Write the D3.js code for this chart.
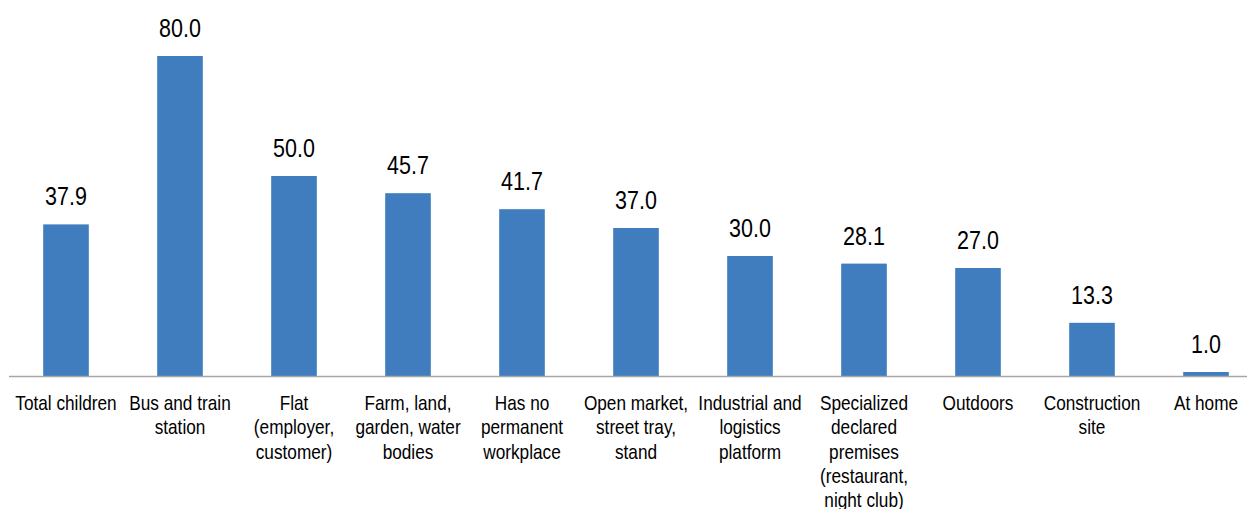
<!DOCTYPE html>
<html>
<head>
<meta charset="utf-8">
<script src="https://cdn.jsdelivr.net/npm/d3@7"></script>
<style>
  body { margin: 0; background: #fff; }
  text { font-family: "Liberation Sans Narrow", "Arial Narrow", "Liberation Sans", Arial, sans-serif; fill: #000; }
</style>
</head>
<body>
<div id="chart"></div>
<script>
const categories = [
  "Total children",
  "Bus and train\nstation",
  "Flat\n(employer,\ncustomer)",
  "Farm, land,\ngarden, water\nbodies",
  "Has no\npermanent\nworkplace",
  "Open market,\nstreet tray,\nstand",
  "Industrial and\nlogistics\nplatform",
  "Specialized\ndeclared\npremises\n(restaurant,\nnight club)",
  "Outdoors",
  "Construction\nsite",
  "At home"
];
const values = [37.9, 80.0, 50.0, 45.7, 41.7, 37.0, 30.0, 28.1, 27.0, 13.3, 1.0];

const width = 1247, height = 509;
const baseY = 376, topY = 56;

const svg = d3.select("#chart")
              .append("svg")
              .attr("width", width)
              .attr("height", height);

const x = d3.scaleBand()
            .domain(categories)
            .range([9, 1263])
            .paddingInner(0.6)
            .paddingOuter(0.3);

const y = d3.scaleLinear()
            .domain([0, 80])
            .range([baseY, topY]);

const cx = c => x(c) + x.bandwidth() / 2;

svg.selectAll(".bar")
   .data(values)
   .enter()
   .append("rect")
   .attr("class", "bar")
   .attr("x", (d, i) => x(categories[i]))
   .attr("y", d => y(d))
   .attr("width", x.bandwidth())
   .attr("height", d => baseY - y(d))
   .attr("fill", "#3f7dbf");

// baseline
svg.append("line")
   .attr("x1", x.range()[0])
   .attr("x2", x.range()[1])
   .attr("y1", baseY + 0.5)
   .attr("y2", baseY + 0.5)
   .attr("stroke", "#a6a6a6")
   .attr("stroke-width", 1.5);

// narrow look: squeeze the regular face horizontally
svg.selectAll(".value")
   .data(values)
   .enter()
   .append("g")
   .attr("transform", (d, i) => `translate(${cx(categories[i])},${y(d) - 19}) scale(0.86,1)`)
   .append("text")
   .attr("class", "value")
   .attr("text-anchor", "middle")
   .style("font-size", "25px")
   .text(d => d3.format(".1f")(d));

const labels = svg.selectAll(".cat")
   .data(categories)
   .enter()
   .append("g")
   .attr("class", "cat")
   .attr("transform", c => `translate(${cx(c)},410) scale(0.82,1)`)
   .append("text")
   .attr("text-anchor", "middle")
   .style("font-size", "21px");

labels.each(function(c) {
  const t = d3.select(this);
  c.split("\n").forEach((line, j) => {
    t.append("tspan")
     .attr("x", 0)
     .attr("y", j * 24.3)
     .text(line);
  });
});
</script>
</body>
</html>
